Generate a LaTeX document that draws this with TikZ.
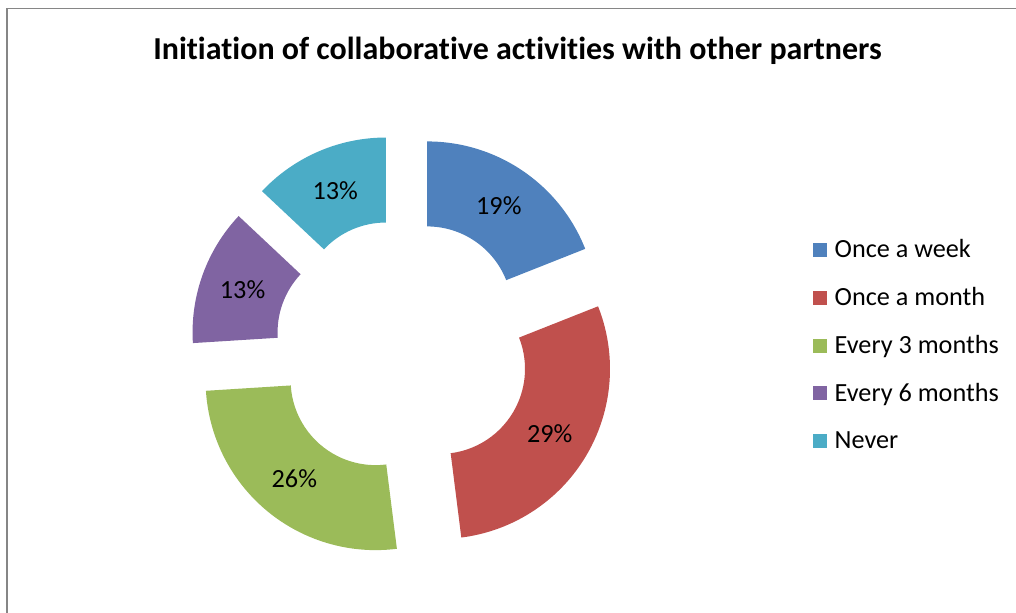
\documentclass[tikz,border=0pt]{standalone}
\usepackage{fontspec}
\setmainfont{Carlito}[Ligatures=NoCommon]
\usetikzlibrary{matrix,calc}
\definecolor{weekc}{HTML}{4F81BD}
\definecolor{monthc}{HTML}{C0504D}
\definecolor{threec}{HTML}{9BBB59}
\definecolor{sixc}{HTML}{8064A2}
\definecolor{neverc}{HTML}{4BACC6}
\definecolor{framec}{HTML}{868686}

\begin{document}
\begin{tikzpicture}[x=1bp,y=1bp,
  lbl/.style={font=\fontsize{26.3}{31}\selectfont,inner sep=0pt},
  key/.style={minimum size=14bp,inner sep=0pt,outer sep=0pt}]
  \useasboundingbox (0,0) rectangle (1016,613);
  \draw[framec,line width=1.8bp] (7,0) -- (7,604.5) -- (1016,604.5);
  \node[font=\fontsize{32.1}{37}\selectfont\bfseries,anchor=base,inner sep=0pt] (title)
    at (517.5,553.7) {Initiation of collaborative activities with other partners};
  \coordinate (c) at (403,266);
  \foreach \a/\b/\col/\txt/\n in {90/21.6/weekc/19/w,21.6/-82.8/monthc/29/m,
      -82.8/-176.4/threec/26/t,-176.4/-223.2/sixc/13/s,-223.2/-270/neverc/13/n}{
    \pgfmathsetmacro{\md}{(\a+\b)/2}
    \coordinate (o-\n) at ($(c)+(\md:43)$);
    \fill[\col,shift={(o-\n)}] (\a:170) arc[start angle=\a,end angle=\b,radius=170]
      -- (\b:85) arc[start angle=\b,end angle=\a,radius=85] -- cycle;
    \node[lbl] (p-\n) at ($(o-\n)+(\md:127.5)$) {\txt\%};
  }
  \matrix (legend) [matrix of nodes,anchor=north west,inner sep=0pt,
      row sep=25.35bp,column sep=7.5bp,
      column 2/.style={nodes={lbl,anchor=west,text height=19bp,text depth=3.4bp}}]
      at (813,374.2)
  {
    |[key,fill=weekc]| {} & Once a week \\
    |[key,fill=monthc]| {} & Once a month \\
    |[key,fill=threec]| {} & Every 3 months \\
    |[key,fill=sixc]| {} & Every 6 months \\
    |[key,fill=neverc]| {} & Never \\};
\end{tikzpicture}
\end{document}
